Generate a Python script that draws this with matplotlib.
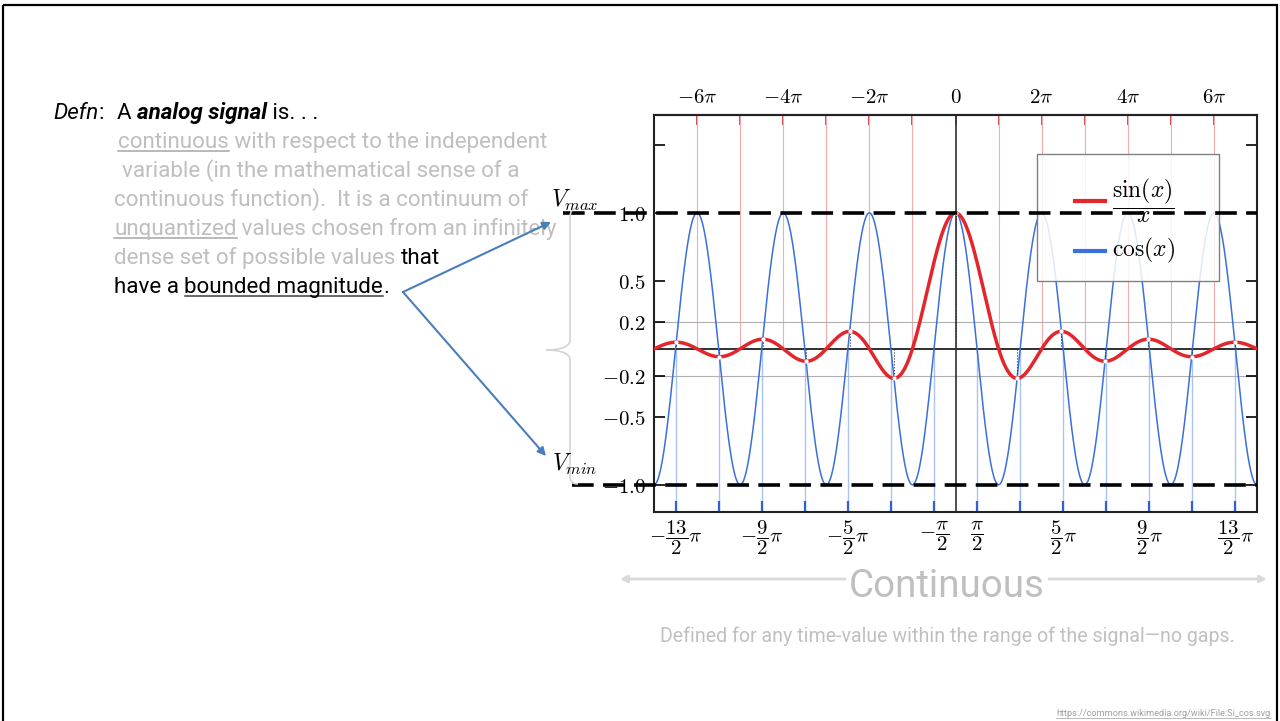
import numpy as np
import matplotlib
matplotlib.use('Agg')
import matplotlib.pyplot as plt
from matplotlib.path import Path
from matplotlib.patches import PathPatch, Rectangle

plt.rcParams['mathtext.fontset'] = 'cm'
SLIDE_FONT = ['Liberation Sans Narrow', 'Roboto', 'DejaVu Sans']

# --- chart data: the two functions shown in the legend ---
x = np.linspace(-7 * np.pi, 7 * np.pi, 7001)
sinc_x = np.sinc(x / np.pi)          # sin(x)/x
cos_x = np.cos(x)

top_ticks = np.arange(-6, 7) * np.pi
top_labels = [r'$-6\pi$', '', r'$-4\pi$', '', r'$-2\pi$', '', r'$0$', '',
              r'$2\pi$', '', r'$4\pi$', '', r'$6\pi$']
bot_ticks = np.arange(-13, 14, 2) * np.pi / 2
bot_labels = [r'$-\dfrac{13}{2}\pi$', '', r'$-\dfrac{9}{2}\pi$', '', r'$-\dfrac{5}{2}\pi$', '',
              r'$-\dfrac{\pi}{2}$', r'$\dfrac{\pi}{2}$', '', r'$\dfrac{5}{2}\pi$', '',
              r'$\dfrac{9}{2}\pi$', '', r'$\dfrac{13}{2}\pi$']
y_ticks = [-1.0, -0.5, -0.2, 0.2, 0.5, 1.0, 1.5]
y_labels = [r'$-1.0$', r'$-0.5$', r'$-0.2$', r'$0.2$', r'$0.5$', r'$1.0$', '']
grid_y = [-0.2, 0.2]

RED = '#e3262b'
BLUE = '#3a6fdc'
GREY = '#bfbfbf'

fig = plt.figure(figsize=(12.8, 7.21), dpi=100)

# ---------------- chart ----------------
ax = fig.add_axes([654 / 1280, 1 - 512 / 721, 603 / 1280, 397 / 721])
ylo, yhi = -1.2, 1.72
ax.set_xlim(x[0], x[-1])
ax.set_ylim(ylo, yhi)

ax.vlines(top_ticks[top_ticks != 0], 0, yhi, color='#f4aaaa', lw=0.8, zorder=1)
ax.vlines(bot_ticks, ylo, 0, color='#a9c3f5', lw=1.0, zorder=1)
for gy in grid_y:
    ax.axhline(gy, color='#b0b0b0', lw=0.8, zorder=1)
ax.axhline(0, color='#303030', lw=1.4, zorder=1.5)
ax.axvline(0, color='#303030', lw=1.2, zorder=1.5)

ax.plot(x, cos_x, color=BLUE, lw=1.1, zorder=2)
ax.plot(x, sinc_x, color=RED, lw=2.5, zorder=3)

# extrema of sin(x)/x (where it meets cos(x))
d = np.diff(sinc_x)
ext = np.where(np.sign(d[:-1]) != np.sign(d[1:]))[0] + 1
ax.vlines(x[ext], 0, sinc_x[ext], color='#333333', lw=0.8, linestyles=':', zorder=3.5)
ax.plot(x[ext], sinc_x[ext], 'o', ms=3, mfc='white', mec='none', zorder=4)

ax.set_yticks(y_ticks, y_labels)
ax.set_xticks(bot_ticks, bot_labels)
ax.tick_params(axis='y', direction='in', length=8, width=1.2, left=True, right=True,
               labelsize=15, pad=6)
ax.tick_params(axis='x', direction='in', length=8, width=1.6, color='#3560d0',
               labelsize=15, pad=5)
top = ax.secondary_xaxis('top')
top.set_xticks(top_ticks, top_labels)
top.tick_params(direction='in', length=7, width=1.2, color='#d02828', labelsize=15, pad=6)
for sp in list(ax.spines.values()) + list(top.spines.values()):
    sp.set_linewidth(1.5)
    sp.set_color('#222222')

# legend box
lx0, lx1, ly0, ly1 = 0.635, 0.937, 0.582, 0.902
ax.add_patch(Rectangle((lx0, ly0), lx1 - lx0, ly1 - ly0, transform=ax.transAxes,
                       facecolor='white', alpha=0.85, edgecolor='none', zorder=5))
ax.add_patch(Rectangle((lx0, ly0), lx1 - lx0, ly1 - ly0, transform=ax.transAxes,
                       facecolor='none', edgecolor='#808080', lw=1.0, zorder=5.1))
ax.plot([0.698, 0.748], [0.784, 0.784], transform=ax.transAxes, color=RED, lw=3, zorder=5.2)
ax.plot([0.698, 0.748], [0.658, 0.658], transform=ax.transAxes, color=BLUE, lw=3, zorder=5.2)
ax.text(0.76, 0.784, r'$\dfrac{\sin(x)}{x}$', transform=ax.transAxes, fontsize=17,
        va='center', ha='left', zorder=5.3)
ax.text(0.76, 0.658, r'$\cos(x)$', transform=ax.transAxes, fontsize=17,
        va='center', ha='left', zorder=5.3)

# V_max / V_min dashed bounds
vmax, vmin = cos_x.max(), cos_x.min()
ax.axhline(vmax, xmin=-0.151, xmax=1.0, clip_on=False, color='black', lw=2.6,
           dashes=(6, 2.6), zorder=6)
ax.axhline(vmin, xmin=-0.136, xmax=1.0, clip_on=False, color='black', lw=2.6,
           dashes=(6, 2.6), zorder=6)

# ---------------- slide overlay (pixel coordinates) ----------------
ov = fig.add_axes([0, 0, 1, 1], zorder=10)
ov.set_xlim(0, 1280)
ov.set_ylim(721, 0)
ov.axis('off')
ov.patch.set_alpha(0)
R = fig.canvas.get_renderer()


def tw(s, size, **kw):
    t = ov.text(0, 0, '|' + s + '|', fontsize=size, family=SLIDE_FONT, **kw)
    w = t.get_window_extent(R).width
    t.remove()
    t = ov.text(0, 0, '||', fontsize=size, family=SLIDE_FONT, **kw)
    w -= t.get_window_extent(R).width
    t.remove()
    return w


def draw_runs(x0, y0, parts, size):
    xx = x0
    for s, color, kw, ul in parts:
        ov.text(xx, y0, s, fontsize=size, color=color, family=SLIDE_FONT,
                va='baseline', ha='left', **kw)
        w = tw(s, size, **kw)
        if ul:
            ov.plot([xx, xx + w], [y0 + 3, y0 + 3], color=ul, lw=1.1)
        xx += w


body = 15 * 431 / tw('continuous with respect to the independent', 15)
N = {}
IT = {'fontstyle': 'italic'}
BI = {'fontstyle': 'italic', 'fontweight': 'bold'}
base = 119
step = 29
draw_runs(53, base, [('Defn', 'black', IT, None), (':', 'black', N, None)], body)
draw_runs(117, base, [('A ', 'black', N, None), ('analog signal', 'black', BI, None),
                      (' is. . .', 'black', N, None)], body)
draw_runs(118, base + step, [('continuous', GREY, N, '#a6a6a6'),
                             (' with respect to the independent', GREY, N, None)], body)
draw_runs(122, base + 2 * step, [('variable (in the mathematical sense of a', GREY, N, None)], body)
draw_runs(114, base + 3 * step, [('continuous function).  It is a continuum of', GREY, N, None)], body)
draw_runs(114, base + 4 * step, [('unquantized', GREY, N, '#a6a6a6'),
                                 (' values chosen from an infinitely', GREY, N, None)], body)
draw_runs(114, base + 5 * step, [('dense set of possible values ', GREY, N, None),
                                 ('that', 'black', N, None)], body)
draw_runs(114, base + 6 * step, [('have a ', 'black', N, None),
                                 ('bounded magnitude', 'black', N, '#404040'),
                                 ('.', 'black', N, None)], body)

# V labels, arrows and brace
ov.text(575, 200, r'$V_{max}$', fontsize=17, ha='center', va='center')
ov.text(575, 464, r'$V_{min}$', fontsize=17, ha='center', va='center')
for tip in [(551, 222), (546, 456)]:
    ov.annotate('', xy=tip, xytext=(403, 292),
                arrowprops=dict(arrowstyle='-|>', color='#4a7ebb', lw=1.5, mutation_scale=12,
                                shrinkA=0, shrinkB=0))
verts = [(578, 208), (572, 208), (570, 212), (570, 218),
         (570, 340),
         (570, 347), (560, 350), (546, 350),
         (560, 350), (570, 353), (570, 360),
         (570, 476),
         (570, 481), (572, 484), (578, 484)]
codes = [Path.MOVETO, Path.CURVE4, Path.CURVE4, Path.CURVE4,
         Path.LINETO,
         Path.CURVE4, Path.CURVE4, Path.CURVE4,
         Path.CURVE4, Path.CURVE4, Path.CURVE4,
         Path.LINETO,
         Path.CURVE4, Path.CURVE4, Path.CURVE4]
ov.add_patch(PathPatch(Path(verts, codes), facecolor='none', edgecolor='#d4d4d4', lw=1.2))

# bottom "Continuous" banner
ov.annotate('', xy=(1267, 579), xytext=(620, 579),
            arrowprops=dict(arrowstyle='<|-|>', color='#d9d9d9', lw=2, mutation_scale=10,
                            shrinkA=0, shrinkB=0))
big = 32 * 196 / tw('Continuous', 32)
ov.text(947, 597, 'Continuous', fontsize=big, color=GREY, family=SLIDE_FONT,
        ha='center', va='baseline',
        bbox=dict(facecolor='white', edgecolor='none', pad=2))
ov.plot([849, 1045], [602, 602], color='#b0b0b0', lw=2.5)
small = 14 * 578 / tw('Defined for any time-value within the range of the signal\u2014no gaps.', 14)
ov.text(947, 642, 'Defined for any time-value within the range of the signal\u2014no gaps.',
        fontsize=small, color='#c0c0c0', family=SLIDE_FONT, ha='center', va='baseline')
url = 'https://commons.wikimedia.org/wiki/File:Si_cos.svg'
us = 7 * 215 / tw(url, 7)
ov.text(1271, 716, url, fontsize=us, color='#a0a0a0', family=SLIDE_FONT,
        ha='right', va='baseline')
ov.plot([1271 - 215, 1271], [718, 718], color='#b0b0b0', lw=0.6)

# slide frame
ov.add_patch(Rectangle((3, 5), 1274, 740, facecolor='none', edgecolor='black', lw=1.6,
                       clip_on=False))

fig.savefig('out.png', dpi=100)
